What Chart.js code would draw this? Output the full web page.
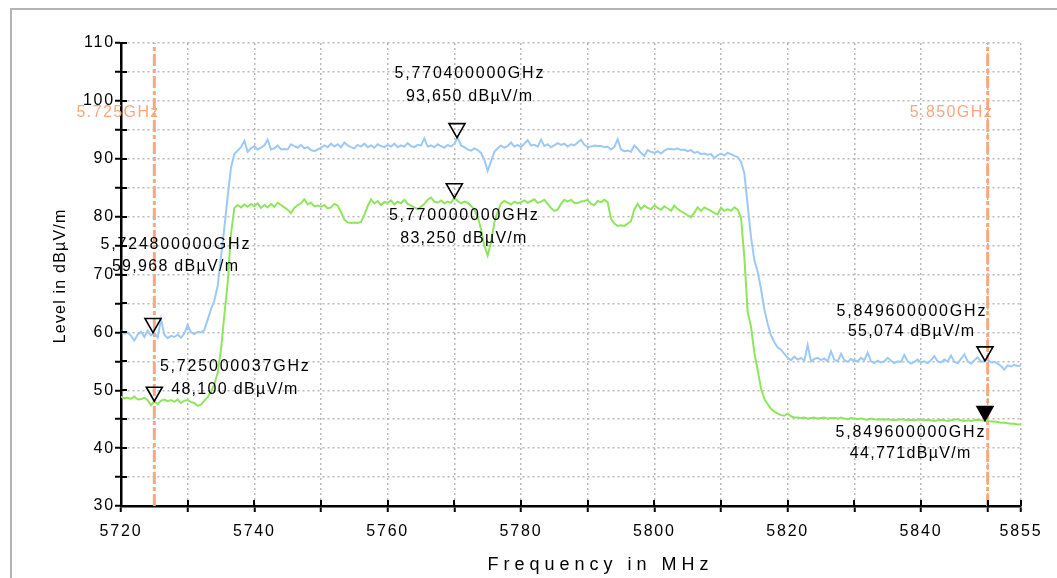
<!DOCTYPE html>
<html>
<head>
<meta charset="utf-8">
<script src="https://cdn.jsdelivr.net/npm/chart.js@4.4.0/dist/chart.umd.min.js"></script>
<style>
html, body { margin: 0; padding: 0; background: #fff; }
#wrap { position: relative; width: 1057px; height: 578px; overflow: hidden; }
#frame { position: absolute; left: 10px; top: 8px; width: 1100px; height: 700px;
         border-left: 2px solid #b4b4b4; border-top: 2px solid #b4b4b4; }
canvas { position: absolute; left: 0; top: 0; }
</style>
</head>
<body>
<div id="wrap"><div id="frame"></div><canvas id="spectrum" width="1057" height="578"></canvas></div>
<script>
// sweep 5720 .. 5855 MHz, one reading every 0.5 MHz
var sweepStart = 5720;
var sweepStep = 0.5;

// upper trace (blue), dBuV/m, one row = 10 MHz
var blueLevels = [
  60.2, 59.8, 60.0, 59.4, 58.6, 59.6, 60.1, 59.2, 60.3, 59.5, 59.9, 59.1, 62.3, 59.6, 59.0, 59.4, 59.2, 59.6, 59.1, 59.8,
  61.3, 60.0, 59.7, 60.1, 60.0, 60.4, 62.2, 64.0, 65.5, 68.0, 73.0, 78.0, 83.5, 88.5, 90.8, 91.4, 92.0, 93.1, 91.2, 91.8,
  92.2, 91.6, 91.9, 92.3, 93.3, 91.6, 91.8, 92.3, 91.6, 91.7, 91.6, 92.5, 92.2, 91.9, 92.4, 91.8, 92.0, 91.5, 91.3, 91.6,
  91.9, 92.3, 92.0, 92.6, 92.1, 92.5, 92.0, 92.8, 92.3, 92.0, 91.8, 92.4, 92.1, 92.6, 92.0, 92.3, 91.9, 92.5, 92.2, 92.0,
  92.4, 92.1, 92.6, 92.0, 92.3, 92.1, 92.7, 92.2, 92.0, 92.4, 92.3, 93.5, 92.1, 92.3, 92.0, 92.5, 92.2, 91.9, 92.4, 92.1,
  92.6, 93.65, 92.3, 92.0, 91.6, 91.4, 91.8, 91.5, 91.0, 89.8, 87.9, 89.5, 91.2, 91.8, 92.3, 91.9, 92.2, 92.8, 92.1, 92.4,
  92.0, 92.6, 93.2, 92.3, 92.4, 92.1, 93.3, 92.2, 92.5, 92.0, 92.3, 92.7, 92.4, 92.6, 92.1, 92.5, 92.3, 92.8, 93.3, 92.4,
  92.0, 92.1, 92.3, 92.2, 92.2, 92.0, 92.1, 91.6, 92.0, 93.4, 91.6, 91.3, 91.4, 91.2, 92.3, 91.7, 91.0, 90.5, 91.5, 91.2,
  91.0, 91.3, 90.9, 91.4, 91.7, 91.7, 91.6, 91.8, 91.5, 91.6, 91.3, 91.5, 91.0, 91.2, 90.8, 90.9, 90.7, 90.8, 90.1, 90.6,
  90.9, 90.6, 91.0, 90.8, 90.5, 90.3, 89.5, 87.5, 82.0, 76.5, 72.5, 70.5, 67.5, 64.0, 61.5, 59.5, 58.3, 57.4, 57.0, 56.3,
  55.6, 55.2, 55.8, 55.3, 55.6, 55.1, 57.8, 55.0, 55.4, 55.6, 55.2, 55.5, 55.0, 56.7, 55.3, 55.0, 56.3, 55.2, 54.9, 55.4,
  55.1, 55.0, 55.6, 55.2, 56.5, 55.0, 54.7, 55.1, 54.8, 55.0, 55.6, 55.1, 54.7, 55.0, 54.9, 56.1, 55.0, 54.6, 54.9, 55.3,
  54.8, 55.0, 54.7, 55.2, 55.9, 55.0, 54.8, 55.3, 55.0, 56.0, 54.9, 54.7, 55.4, 56.2, 55.0, 54.6, 55.2, 55.7, 54.9, 55.07,
  55.3, 54.8, 54.9, 54.6, 54.2, 53.6, 54.3, 54.1, 54.4, 54.2, 54.3
];

// lower trace (green)
var greenLevels = [
  48.9, 48.6, 48.7, 48.5, 48.9, 48.4, 48.5, 48.7, 48.3, 47.4, 48.1, 47.6, 48.2, 48.4, 48.1, 48.3, 48.0, 48.4, 47.8, 48.2,
  48.3, 48.0, 47.8, 47.3, 47.5, 48.2, 48.8, 49.8, 51.0, 53.0, 57.0, 63.0, 68.5, 77.0, 81.5, 82.0, 81.6, 82.1, 81.7, 82.2,
  81.8, 82.3, 81.5, 82.0, 81.6, 82.2, 81.7, 82.4, 82.0, 81.6, 81.2, 80.6, 81.5, 82.0, 82.3, 83.0, 82.1, 82.4, 81.8, 81.9,
  81.7, 82.0, 81.4, 81.6, 82.2, 81.9, 80.8, 79.5, 79.0, 78.9, 79.0, 78.9, 79.1, 80.3, 81.8, 83.0, 82.3, 82.7, 82.0, 82.5,
  82.4, 82.8, 82.1, 82.6, 82.3, 82.9, 82.2, 81.9, 81.6, 81.3, 81.7, 82.2, 82.9, 83.3, 82.6, 82.4, 82.8, 82.3, 82.6, 82.4,
  83.25, 82.7, 82.3, 82.6, 82.4, 81.9, 81.2, 80.0, 77.8, 75.0, 73.3, 75.5, 79.0, 80.8, 82.3, 82.7, 82.4, 82.1, 82.6, 82.3,
  82.5, 82.8, 82.4, 82.7, 83.0, 82.4, 82.6, 82.9, 82.2, 81.5, 81.0, 81.2, 82.2, 82.9, 82.6, 82.9, 82.4, 82.3, 82.6, 82.7,
  82.9, 82.2, 82.0, 82.7, 82.5, 82.9, 82.5, 79.6, 78.8, 78.4, 78.5, 78.4, 78.8, 79.2, 81.3, 82.2, 81.3, 81.9, 81.5, 81.3,
  81.9, 81.5, 81.2, 81.8, 81.4, 81.0, 81.9, 81.3, 80.9, 80.6, 80.2, 79.9, 80.7, 81.6, 81.0, 81.6, 81.3, 81.0, 80.6, 80.4,
  81.5, 81.0, 81.3, 81.0, 81.6, 81.2, 79.8, 73.0, 63.5, 61.0, 56.5, 53.5, 50.3, 48.5, 47.6, 46.8, 46.3, 46.0, 45.7, 45.6,
  46.0, 45.5, 45.3, 45.3, 45.2, 45.3, 45.1, 45.2, 45.3, 45.1, 45.2, 45.3, 45.1, 45.2, 45.2, 45.1, 45.3, 45.1, 45.0, 45.2,
  45.1, 45.0, 45.1, 45.0, 44.9, 45.1, 45.0, 44.9, 45.0, 44.9, 45.0, 44.9, 44.8, 44.9, 45.0, 44.9, 44.8, 44.9, 44.8, 44.9,
  44.9, 44.8, 44.9, 44.8, 44.7, 44.8, 44.9, 44.8, 44.7, 44.8, 44.9, 45.0, 44.8, 44.7, 44.8, 44.7, 44.8, 44.9, 44.8, 44.77,
  44.7, 44.6, 44.6, 44.5, 44.4, 44.4, 44.3, 44.2, 44.2, 44.1, 44.1
];

// markers
var markerFreqs  = [5770.4, 5770.0, 5724.8, 5725.000037, 5849.6, 5849.6];
var markerLevels = [93.65, 83.25, 59.968, 48.1, 55.074, 44.771];
var markerFreqText  = ["5,770400000GHz", "5,770000000GHz", "5,724800000GHz", "5,725000037GHz", "5,849600000GHz", "5,849600000GHz"];
var markerLevelText = ["93,650 dBµV/m", "83,250 dBµV/m", "59,968 dBµV/m", "48,100 dBµV/m", "55,074 dBµV/m", "44,771dBµV/m"];
var markerFilled = [false, false, false, false, false, true];

// band limit lines
var limitFreqs = [5725, 5850];
var limitText = ["5.725GHz", "5.850GHz"];

// axis ticks
var xTicks = [5720, 5730, 5740, 5750, 5760, 5770, 5780, 5790, 5800, 5810, 5820, 5830, 5840, 5850, 5855];
var xTickLabels = ["5720", "", "5740", "", "5760", "", "5780", "", "5800", "", "5820", "", "5840", "", "5855"];
var yMin = 30, yMax = 110, yStep = 5;

// label placement around each marker tip (pixels), kept apart from the data
var markerTextPos = [
  { dx: 12, dy1: -64, dy2: -41 },
  { dx: 9,  dy1: 18,  dy2: 41 },
  { dx: 22, dy1: -88, dy2: -66 },
  { dx: 80, dy1: -35, dy2: -12 },
  { dx: -74, dy1: -49, dy2: -29 },
  { dx: -75, dy1: 12, dy2: 33 }
];

var FONT = '"Liberation Sans", Arial, sans-serif';
var ORANGE = '#f9a77f';

function trace(levels) {
  return levels.map(function (v, i) { return { x: sweepStart + i * sweepStep, y: v }; });
}

function spacedText(ctx, text, x, y, spacing, align) {
  var chars = text.split('');
  var widths = chars.map(function (c) { return ctx.measureText(c).width; });
  var total = widths.reduce(function (a, b) { return a + b; }, 0) + spacing * (chars.length - 1);
  var start = align === 'right' ? x - total : (align === 'left' ? x : x - total / 2);
  ctx.textAlign = 'left';
  chars.forEach(function (c, i) {
    ctx.fillText(c, start, y);
    start += widths[i] + spacing;
  });
}

var overlay = {
  id: 'overlay',
  beforeDraw: function (chart) {
    // tick numbers in the original are set a little wide
    if ('letterSpacing' in chart.ctx) chart.ctx.letterSpacing = '1.8px';
  },
  beforeDatasetsDraw: function (chart) {
    if ('letterSpacing' in chart.ctx) chart.ctx.letterSpacing = '0px';
  },
  afterDatasetsDraw: function (chart) {
    var ctx = chart.ctx, xs = chart.scales.x, ys = chart.scales.y, area = chart.chartArea;
    ctx.save();
    // inner half of the tick marks
    ctx.strokeStyle = '#000';
    ctx.lineWidth = 2;
    ys.ticks.forEach(function (t) {
      var y = Math.round(ys.getPixelForValue(t.value));
      ctx.beginPath(); ctx.moveTo(area.left, y); ctx.lineTo(area.left + 6, y); ctx.stroke();
    });
    xs.ticks.forEach(function (t) {
      var x = Math.round(xs.getPixelForValue(t.value));
      ctx.beginPath(); ctx.moveTo(x, area.bottom); ctx.lineTo(x, area.bottom - 6); ctx.stroke();
    });

    // limit labels
    ctx.font = '16px ' + FONT;
    ctx.fillStyle = ORANGE;
    ctx.textBaseline = 'middle';
    limitFreqs.forEach(function (f, i) {
      spacedText(ctx, limitText[i], xs.getPixelForValue(f) + 4, area.top + 70, 1.4, 'right');
    });

    // marker triangles
    markerFreqs.forEach(function (f, i) {
      var px = xs.getPixelForValue(f), py = ys.getPixelForValue(markerLevels[i]);
      ctx.beginPath();
      ctx.moveTo(px, py);
      ctx.lineTo(px - 8, py - 14);
      ctx.lineTo(px + 8, py - 14);
      ctx.closePath();
      ctx.lineWidth = 1.6;
      ctx.strokeStyle = '#000';
      if (markerFilled[i]) { ctx.fillStyle = '#000'; ctx.fill(); }
      ctx.stroke();
    });

    // marker readouts
    ctx.fillStyle = '#000';
    ctx.font = '16px ' + FONT;
    markerFreqs.forEach(function (f, i) {
      var px = xs.getPixelForValue(f), py = ys.getPixelForValue(markerLevels[i]);
      var p = markerTextPos[i];
      spacedText(ctx, markerFreqText[i], px + p.dx, py + p.dy1, 1.8, 'center');
      spacedText(ctx, markerLevelText[i], px + p.dx, py + p.dy2, 1.3, 'center');
    });

    // axis titles
    ctx.font = '18px ' + FONT;
    spacedText(ctx, 'Frequency in MHz', 598, 565, 5, 'center');
    ctx.save();
    ctx.translate(61, (area.top + area.bottom) / 2 + 2);
    ctx.rotate(-Math.PI / 2);
    ctx.font = '16px ' + FONT;
    spacedText(ctx, 'Level in dBµV/m', 0, 0, 1.2, 'center');
    ctx.restore();
    ctx.restore();
  }
};

var limitSets = limitFreqs.map(function (f) {
  return {
    data: [{ x: f, y: yMin }, { x: f, y: yMax }],
    borderColor: ORANGE,
    borderWidth: 3,
    borderDash: [12, 3, 4, 3],
    pointRadius: 0
  };
});

new Chart(document.getElementById('spectrum'), {
  type: 'line',
  data: {
    datasets: limitSets.concat([
      { data: trace(blueLevels), borderColor: '#9dc9f6', borderWidth: 2, pointRadius: 0, tension: 0 },
      { data: trace(greenLevels), borderColor: '#8fe65c', borderWidth: 2, pointRadius: 0, tension: 0 }
    ])
  },
  options: {
    responsive: false,
    animation: false,
    events: [],
    layout: { padding: { top: 43, right: 36, left: 0, bottom: 0 } },
    plugins: { legend: { display: false }, tooltip: { enabled: false } },
    scales: {
      x: {
        type: 'linear',
        min: 5720,
        max: 5855,
        afterBuildTicks: function (scale) {
          scale.ticks = xTicks.map(function (v) { return { value: v }; });
        },
        afterFit: function (scale) { scale.height = 72; },
        ticks: {
          autoSkip: false,
          maxRotation: 0,
          padding: 10,
          color: '#000',
          font: { size: 16, family: FONT },
          callback: function (value) {
            var i = xTicks.indexOf(value);
            return i >= 0 ? xTickLabels[i] : '';
          }
        },
        grid: {
          color: '#b9b9b9',
          lineWidth: 1.5,
          tickColor: '#000',
          tickWidth: 2,
          tickLength: 6,
          tickBorderDash: []
        },
        border: { color: '#000', width: 2.5, dash: [2, 3] }
      },
      y: {
        min: yMin,
        max: yMax,
        afterFit: function (scale) { scale.width = 121; },
        ticks: {
          stepSize: yStep,
          padding: 0,
          color: '#000',
          font: { size: 16, family: FONT },
          callback: function (value) { return value % 10 === 0 ? value : ''; }
        },
        grid: {
          color: '#b9b9b9',
          lineWidth: 1.5,
          tickColor: '#000',
          tickWidth: 2,
          tickLength: 6,
          tickBorderDash: []
        },
        border: { color: '#000', width: 2.5, dash: [2, 3] }
      }
    }
  },
  plugins: [overlay]
});
</script>
</body>
</html>
